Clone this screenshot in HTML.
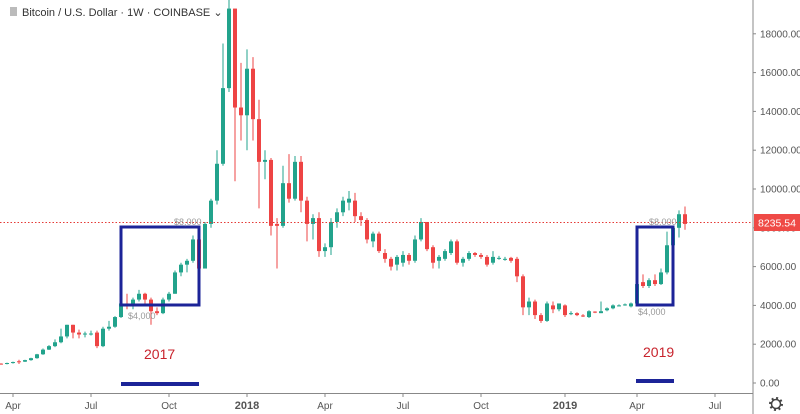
<!DOCTYPE html>
<html><head><meta charset="utf-8">
<style>
html,body{margin:0;padding:0;background:#fff;}
svg{display:block;font-family:"Liberation Sans",sans-serif;}
</style></head>
<body>
<svg id="chart" width="800" height="414" viewBox="0 0 800 414" xmlns="http://www.w3.org/2000/svg">
  <rect x="0" y="0" width="800" height="414" fill="#fff"/>
  <g id="candles"></g>
  <line x1="0" x2="753" y1="222.5" y2="222.5" stroke="#e53935" stroke-width="1" stroke-dasharray="1.5,2"/>
  <g id="yaxis"></g>
  <g id="xaxis"></g>
  <line x1="753" x2="753" y1="0" y2="414" stroke="#888" stroke-width="1"/>
  <line x1="0" x2="753" y1="393.5" y2="393.5" stroke="#888" stroke-width="1"/>
  <rect x="754" y="214" width="46" height="17" fill="#ef4a46"/>
  <text x="758" y="226.5" font-size="10.5" fill="#fff">8235.54</text>

  <g>
    <rect x="121" y="227" width="78" height="78" fill="none" stroke="#1c2498" stroke-width="3"/>
    <text x="174" y="225" font-size="9" fill="#999">$8,000</text>
    <text x="128" y="319" font-size="9" fill="#999">$4,000</text>
    <text x="144" y="359" font-size="14" fill="#c8232c">2017</text>
    <rect x="121" y="382" width="78" height="4" fill="#1c2498"/>
  </g>
  <g>
    <rect x="637" y="227" width="36" height="78" fill="none" stroke="#1c2498" stroke-width="3"/>
    <text x="649" y="225" font-size="9" fill="#999">$8,000</text>
    <text x="638" y="315" font-size="9" fill="#999">$4,000</text>
    <text x="643" y="357" font-size="14" fill="#c8232c">2019</text>
    <rect x="636" y="379" width="38" height="4" fill="#1c2498"/>
  </g>

  <g>
    <rect x="10" y="7" width="7" height="9" fill="#bbb"/>
    <text x="22" y="16" font-size="11" fill="#333">Bitcoin / U.S. Dollar · 1W · COINBASE ⌄</text>
  </g>
  <g transform="translate(776,404)">
    <circle r="4.5" fill="none" stroke="#444" stroke-width="1.5"/>
    <circle r="6" fill="none" stroke="#444" stroke-width="2" stroke-dasharray="2,2.7"/>
  </g>
</svg>
<script>
// weekly OHLC in thousands USD
const opens = [1.00,0.98,1.03,1.12,1.10,1.18,1.28,1.48,1.72,1.90,2.10,2.40,3.00,2.60,2.50,2.55,2.60,1.90,2.80,2.90,3.40,4.10,4.00,4.30,4.60,4.30,3.70,3.60,4.30,4.60,5.70,6.10,6.30,7.40,5.90,8.20,9.40,11.30,15.20,19.30,14.20,13.80,16.20,13.60,11.40,11.50,8.20,8.10,10.30,9.50,11.40,9.40,8.20,8.50,6.80,7.00,8.30,8.80,9.30,9.40,8.60,8.40,7.30,7.70,6.70,6.40,6.10,6.20,6.60,6.30,7.40,8.30,7.00,6.30,6.40,6.70,7.30,6.20,6.40,6.70,6.60,6.50,6.20,6.45,6.40,6.45,6.40,5.50,3.90,4.20,3.50,3.20,4.00,3.80,4.00,3.55,3.60,3.48,3.40,3.68,3.60,3.75,3.85,4.00,4.02,3.95,4.10,5.20,5.00,5.30,5.10,5.70,7.10,8.00,8.70];
const closes = [0.98,1.03,1.08,1.10,1.18,1.28,1.48,1.72,1.90,2.10,2.40,3.00,2.60,2.50,2.55,2.55,1.90,2.80,2.90,3.40,4.10,4.00,4.30,4.60,4.30,3.70,3.60,4.30,4.60,5.70,6.10,6.30,7.40,5.90,8.20,9.40,11.30,15.20,19.30,14.20,13.80,16.20,13.60,11.40,11.50,8.10,8.10,10.30,9.50,11.40,9.40,8.20,8.50,6.80,7.00,8.30,8.80,9.40,9.50,8.60,8.40,7.40,7.70,6.80,6.40,6.00,6.50,6.60,6.30,7.40,8.30,6.90,6.20,6.50,6.80,7.30,6.20,6.40,6.70,6.60,6.50,6.10,6.50,6.45,6.40,6.30,5.50,3.90,4.20,3.50,3.20,4.10,3.80,4.10,3.50,3.60,3.50,3.45,3.70,3.65,3.70,3.85,4.00,4.00,4.05,4.10,5.10,5.00,5.30,5.10,5.70,7.10,8.00,8.70,8.20];
const highs = [1.02,1.05,1.10,1.20,1.20,1.30,1.50,1.78,1.95,2.25,2.80,3.00,3.00,2.75,2.65,2.70,2.70,2.90,3.20,3.45,4.20,4.60,4.40,4.80,4.65,4.40,3.90,4.40,4.70,5.80,6.20,6.40,7.60,7.70,8.30,9.50,12.00,17.50,19.90,19.30,16.50,17.20,16.80,14.60,12.00,11.60,8.50,11.20,11.80,11.70,11.70,9.60,8.70,8.80,7.20,8.50,9.00,9.60,9.90,9.80,8.80,8.50,7.80,7.80,6.90,6.50,6.60,6.80,6.70,7.60,8.50,8.30,7.10,6.60,6.90,7.40,7.40,6.50,6.80,6.75,6.70,6.60,6.80,6.55,6.50,6.50,6.50,5.60,4.40,4.30,3.60,4.20,4.20,4.10,4.05,3.70,3.65,3.55,3.75,3.70,4.20,3.90,4.05,4.05,4.10,4.15,5.20,5.60,5.40,5.60,5.90,7.80,8.10,8.90,9.10];
const lows = [0.95,0.96,1.00,0.98,1.08,1.15,1.25,1.45,1.70,1.85,2.05,2.30,2.30,2.30,2.35,2.45,1.80,1.85,2.70,2.85,3.35,3.80,3.80,4.20,4.10,3.00,3.50,3.55,4.20,4.60,5.50,5.70,6.20,5.50,5.90,8.00,9.20,11.20,15.00,10.40,12.50,12.00,12.50,9.00,10.50,7.60,5.90,8.00,9.30,9.40,8.80,7.30,7.40,6.50,6.50,6.60,8.00,8.60,8.90,8.30,8.10,7.20,7.00,6.70,6.20,5.80,5.80,6.00,6.10,6.20,7.30,6.80,5.90,5.90,6.30,6.60,6.10,6.00,6.30,6.50,6.40,6.00,6.10,6.35,6.30,6.20,5.20,3.50,3.50,3.30,3.10,3.15,3.60,3.70,3.40,3.50,3.45,3.40,3.35,3.60,3.60,3.70,3.80,3.95,3.98,3.90,4.05,4.90,4.90,5.00,5.05,5.60,6.90,7.50,7.90];
const yTicks = [0,2000,4000,6000,8000,10000,12000,14000,16000,18000];
const xLabels = ["Apr","Jul","Oct","2018","Apr","Jul","Oct","2019","Apr","Jul"];
const xLabelWeeks = [2,15,28,41,54,67,80,94,106,119];

const NS = "http://www.w3.org/2000/svg";
function xScale(i){ return 1 + i*6; }
function yScale(usd){ return 383 - usd/1000*19.4; }

const cg = document.getElementById('candles');
for (let i=0;i<opens.length;i++){
  const up = closes[i] >= opens[i];
  const col = up ? "#22a38c" : "#ee4444";
  const x = xScale(i);
  const w = document.createElementNS(NS,'line');
  
  
  w.setAttribute('x1',x); w.setAttribute('x2',x);
  w.setAttribute('y1',yScale(highs[i]*1000)); w.setAttribute('y2',yScale(lows[i]*1000));
  w.setAttribute('stroke',col); w.setAttribute('stroke-width','1');
  cg.appendChild(w);
  const top = yScale(Math.max(opens[i],closes[i])*1000);
  const bot = yScale(Math.min(opens[i],closes[i])*1000);
  const r = document.createElementNS(NS,'rect');
  
  
  r.setAttribute('x',x-2); r.setAttribute('width',4);
  r.setAttribute('y',top); r.setAttribute('height',Math.max(1,bot-top));
  r.setAttribute('fill',col);
  cg.appendChild(r);
}
const ya = document.getElementById('yaxis');
yTicks.forEach(v=>{
  const y = yScale(v);
  const t = document.createElementNS(NS,'line');
  
  
  t.setAttribute('x1',753); t.setAttribute('x2',756); t.setAttribute('y1',y); t.setAttribute('y2',y);
  t.setAttribute('stroke','#888');
  ya.appendChild(t);
  const tx = document.createElementNS(NS,'text');
  
  
  tx.setAttribute('x',760); tx.setAttribute('y',y+3.5);
  tx.setAttribute('font-size','10'); tx.setAttribute('fill','#555');
  tx.textContent = v.toFixed(2);
  ya.appendChild(tx);
});
const xa = document.getElementById('xaxis');
xLabels.forEach((lab,k)=>{
  const x = xScale(xLabelWeeks[k]);
  const t = document.createElementNS(NS,'line');
  
  
  t.setAttribute('x1',x); t.setAttribute('x2',x); t.setAttribute('y1',394); t.setAttribute('y2',397);
  t.setAttribute('stroke','#888');
  xa.appendChild(t);
  const tx = document.createElementNS(NS,'text');
  
  
  tx.setAttribute('x',x); tx.setAttribute('y',409);
  tx.setAttribute('text-anchor','middle');
  tx.setAttribute('font-size', lab.length===4 ? '11' : '10');
  if (lab.length===4) tx.setAttribute('font-weight','bold');
  tx.setAttribute('fill','#555');
  tx.textContent = lab;
  xa.appendChild(tx);
});
</script>
</body></html>
